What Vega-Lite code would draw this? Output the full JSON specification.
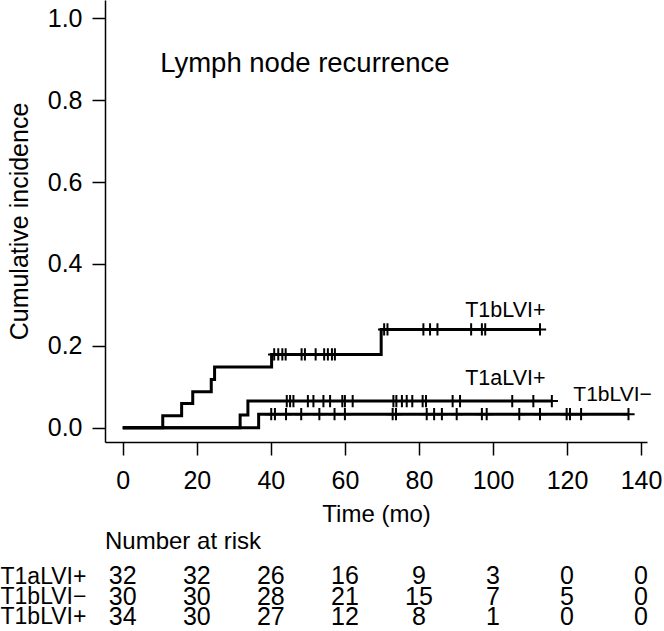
{
  "$schema": "https://vega.github.io/schema/vega-lite/v6.json",
  "padding": 0,
  "background": "white",
  "config": {"font": "Liberation Sans", "view": {"stroke": null}, "concat": {"spacing": 4}},
  "datasets": {
    "steps": [
      {"group": "T1bLVI+", "time": 0, "cif": 0},
      {"group": "T1bLVI+", "time": 10.8, "cif": 0.029},
      {"group": "T1bLVI+", "time": 15.9, "cif": 0.059},
      {"group": "T1bLVI+", "time": 18.9, "cif": 0.088},
      {"group": "T1bLVI+", "time": 23.9, "cif": 0.118},
      {"group": "T1bLVI+", "time": 24.8, "cif": 0.148},
      {"group": "T1bLVI+", "time": 40.2, "cif": 0.179},
      {"group": "T1bLVI+", "time": 69.8, "cif": 0.240},
      {"group": "T1bLVI+", "time": 112.7, "cif": 0.240},
      {"group": "T1aLVI+", "time": 0, "cif": 0},
      {"group": "T1aLVI+", "time": 31.7, "cif": 0.031},
      {"group": "T1aLVI+", "time": 33.8, "cif": 0.065},
      {"group": "T1aLVI+", "time": 115.9, "cif": 0.065},
      {"group": "T1bLVI−", "time": 0, "cif": 0},
      {"group": "T1bLVI−", "time": 36.7, "cif": 0.033},
      {"group": "T1bLVI−", "time": 136.6, "cif": 0.033}
    ],
    "censor": [
      {"group": "T1bLVI+", "time": 40.9, "cif": 0.179},
      {"group": "T1bLVI+", "time": 42.0, "cif": 0.179},
      {"group": "T1bLVI+", "time": 43.1, "cif": 0.179},
      {"group": "T1bLVI+", "time": 44.0, "cif": 0.179},
      {"group": "T1bLVI+", "time": 48.3, "cif": 0.179},
      {"group": "T1bLVI+", "time": 49.2, "cif": 0.179},
      {"group": "T1bLVI+", "time": 52.1, "cif": 0.179},
      {"group": "T1bLVI+", "time": 54.4, "cif": 0.179},
      {"group": "T1bLVI+", "time": 55.4, "cif": 0.179},
      {"group": "T1bLVI+", "time": 56.5, "cif": 0.179},
      {"group": "T1bLVI+", "time": 57.3, "cif": 0.179},
      {"group": "T1bLVI+", "time": 70.6, "cif": 0.240},
      {"group": "T1bLVI+", "time": 71.5, "cif": 0.240},
      {"group": "T1bLVI+", "time": 81.2, "cif": 0.240},
      {"group": "T1bLVI+", "time": 83.0, "cif": 0.240},
      {"group": "T1bLVI+", "time": 85.0, "cif": 0.240},
      {"group": "T1bLVI+", "time": 94.1, "cif": 0.240},
      {"group": "T1bLVI+", "time": 97.0, "cif": 0.240},
      {"group": "T1bLVI+", "time": 97.9, "cif": 0.240},
      {"group": "T1bLVI+", "time": 112.7, "cif": 0.240},
      {"group": "T1aLVI+", "time": 44.3, "cif": 0.065},
      {"group": "T1aLVI+", "time": 45.2, "cif": 0.065},
      {"group": "T1aLVI+", "time": 46.1, "cif": 0.065},
      {"group": "T1aLVI+", "time": 50.0, "cif": 0.065},
      {"group": "T1aLVI+", "time": 51.5, "cif": 0.065},
      {"group": "T1aLVI+", "time": 54.2, "cif": 0.065},
      {"group": "T1aLVI+", "time": 56.0, "cif": 0.065},
      {"group": "T1aLVI+", "time": 59.3, "cif": 0.065},
      {"group": "T1aLVI+", "time": 60.0, "cif": 0.065},
      {"group": "T1aLVI+", "time": 62.1, "cif": 0.065},
      {"group": "T1aLVI+", "time": 73.1, "cif": 0.065},
      {"group": "T1aLVI+", "time": 73.9, "cif": 0.065},
      {"group": "T1aLVI+", "time": 75.4, "cif": 0.065},
      {"group": "T1aLVI+", "time": 76.7, "cif": 0.065},
      {"group": "T1aLVI+", "time": 78.2, "cif": 0.065},
      {"group": "T1aLVI+", "time": 81.0, "cif": 0.065},
      {"group": "T1aLVI+", "time": 81.9, "cif": 0.065},
      {"group": "T1aLVI+", "time": 89.1, "cif": 0.065},
      {"group": "T1aLVI+", "time": 91.1, "cif": 0.065},
      {"group": "T1aLVI+", "time": 105.2, "cif": 0.065},
      {"group": "T1aLVI+", "time": 110.9, "cif": 0.065},
      {"group": "T1aLVI+", "time": 115.9, "cif": 0.065},
      {"group": "T1bLVI−", "time": 40.1, "cif": 0.033},
      {"group": "T1bLVI−", "time": 41.1, "cif": 0.033},
      {"group": "T1bLVI−", "time": 44.1, "cif": 0.033},
      {"group": "T1bLVI−", "time": 48.2, "cif": 0.033},
      {"group": "T1bLVI−", "time": 53.1, "cif": 0.033},
      {"group": "T1bLVI−", "time": 57.2, "cif": 0.033},
      {"group": "T1bLVI−", "time": 60.0, "cif": 0.033},
      {"group": "T1bLVI−", "time": 72.9, "cif": 0.033},
      {"group": "T1bLVI−", "time": 73.8, "cif": 0.033},
      {"group": "T1bLVI−", "time": 82.1, "cif": 0.033},
      {"group": "T1bLVI−", "time": 84.1, "cif": 0.033},
      {"group": "T1bLVI−", "time": 86.2, "cif": 0.033},
      {"group": "T1bLVI−", "time": 90.2, "cif": 0.033},
      {"group": "T1bLVI−", "time": 97.0, "cif": 0.033},
      {"group": "T1bLVI−", "time": 98.3, "cif": 0.033},
      {"group": "T1bLVI−", "time": 107.1, "cif": 0.033},
      {"group": "T1bLVI−", "time": 112.7, "cif": 0.033},
      {"group": "T1bLVI−", "time": 119.9, "cif": 0.033},
      {"group": "T1bLVI−", "time": 120.8, "cif": 0.033},
      {"group": "T1bLVI−", "time": 123.8, "cif": 0.033},
      {"group": "T1bLVI−", "time": 136.6, "cif": 0.033}
    ],
    "risk": [
      {"group": "T1aLVI+", "time": 0, "n": 32},
      {"group": "T1aLVI+", "time": 20, "n": 32},
      {"group": "T1aLVI+", "time": 40, "n": 26},
      {"group": "T1aLVI+", "time": 60, "n": 16},
      {"group": "T1aLVI+", "time": 80, "n": 9},
      {"group": "T1aLVI+", "time": 100, "n": 3},
      {"group": "T1aLVI+", "time": 120, "n": 0},
      {"group": "T1aLVI+", "time": 140, "n": 0},
      {"group": "T1bLVI−", "time": 0, "n": 30},
      {"group": "T1bLVI−", "time": 20, "n": 30},
      {"group": "T1bLVI−", "time": 40, "n": 28},
      {"group": "T1bLVI−", "time": 60, "n": 21},
      {"group": "T1bLVI−", "time": 80, "n": 15},
      {"group": "T1bLVI−", "time": 100, "n": 7},
      {"group": "T1bLVI−", "time": 120, "n": 5},
      {"group": "T1bLVI−", "time": 140, "n": 0},
      {"group": "T1bLVI+", "time": 0, "n": 34},
      {"group": "T1bLVI+", "time": 20, "n": 30},
      {"group": "T1bLVI+", "time": 40, "n": 27},
      {"group": "T1bLVI+", "time": 60, "n": 12},
      {"group": "T1bLVI+", "time": 80, "n": 8},
      {"group": "T1bLVI+", "time": 100, "n": 1},
      {"group": "T1bLVI+", "time": 120, "n": 0},
      {"group": "T1bLVI+", "time": 140, "n": 0}
    ]
  },
  "resolve": {"scale": {"x": "independent", "y": "independent"}},
  "vconcat": [
    {
      "width": 542,
      "height": 442,
      "layer": [
        {
          "data": {"name": "steps"},
          "mark": {"type": "line", "interpolate": "step-after", "strokeWidth": 3, "color": "black"},
          "encoding": {
            "x": {
              "field": "time", "type": "quantitative",
              "scale": {"domain": [-4.8, 141.6], "nice": false, "zero": false},
              "axis": {
                "values": [0, 20, 40, 60, 80, 100, 120, 140],
                "title": "Time (mo)", "grid": false,
                "tickSize": 13, "tickWidth": 1.5, "tickColor": "black",
                "domainColor": "black", "domainWidth": 1.5,
                "labelFontSize": 25, "labelColor": "black", "labelPadding": 13,
                "labelFlush": false, "labelOverlap": false,
                "titleFontSize": 24, "titleFontWeight": "normal", "titleColor": "black", "titlePadding": 9
              }
            },
            "y": {
              "field": "cif", "type": "quantitative",
              "scale": {"domain": [-0.035, 1.045], "nice": false, "zero": false},
              "axis": {
                "values": [0, 0.2, 0.4, 0.6, 0.8, 1.0], "format": ".1f",
                "title": "Cumulative incidence", "grid": false,
                "tickSize": 13, "tickWidth": 1.5, "tickColor": "black",
                "domainColor": "black", "domainWidth": 1.5,
                "labelFontSize": 25, "labelColor": "black", "labelPadding": 10,
                "labelOverlap": false,
                "titleFontSize": 25, "titleFontWeight": "normal", "titleColor": "black", "titlePadding": 15
              }
            },
            "detail": {"field": "group"}
          }
        },
        {
          "data": {"name": "censor"},
          "mark": {"type": "point", "shape": "M-1,0H1M0,-1V1", "size": 150, "filled": false, "stroke": "black", "strokeWidth": 2, "opacity": 1},
          "encoding": {
            "x": {"field": "time", "type": "quantitative"},
            "y": {"field": "cif", "type": "quantitative"}
          }
        },
        {
          "data": {"values": [{"label": "Lymph node recurrence"}]},
          "mark": {"type": "text", "align": "left", "baseline": "middle", "fontSize": 27.5, "color": "black"},
          "encoding": {
            "x": {"datum": 10.1, "type": "quantitative"},
            "y": {"datum": 0.888, "type": "quantitative"},
            "text": {"field": "label"}
          }
        },
        {
          "data": {"values": [{"label": "T1bLVI+"}]},
          "mark": {"type": "text", "align": "left", "baseline": "middle", "fontSize": 21.5, "color": "black"},
          "encoding": {
            "x": {"datum": 92.5, "type": "quantitative"},
            "y": {"datum": 0.285, "type": "quantitative"},
            "text": {"field": "label"}
          }
        },
        {
          "data": {"values": [{"label": "T1aLVI+"}]},
          "mark": {"type": "text", "align": "left", "baseline": "middle", "fontSize": 21.5, "color": "black"},
          "encoding": {
            "x": {"datum": 92.5, "type": "quantitative"},
            "y": {"datum": 0.12, "type": "quantitative"},
            "text": {"field": "label"}
          }
        },
        {
          "data": {"values": [{"label": "T1bLVI−"}]},
          "mark": {"type": "text", "align": "left", "baseline": "middle", "fontSize": 21, "color": "black"},
          "encoding": {
            "x": {"datum": 121.7, "type": "quantitative"},
            "y": {"datum": 0.079, "type": "quantitative"},
            "text": {"field": "label"}
          }
        }
      ]
    },
    {
      "width": 542,
      "height": 61,
      "data": {"name": "risk"},
      "title": {"text": "Number at risk", "anchor": "start", "frame": "group", "fontSize": 24, "fontWeight": "normal", "color": "black", "offset": 10},
      "mark": {"type": "text", "fontSize": 25, "color": "black"},
      "encoding": {
        "x": {"field": "time", "type": "quantitative", "scale": {"domain": [-4.8, 141.6], "nice": false, "zero": false}, "axis": null},
        "y": {
          "field": "group", "type": "nominal",
          "sort": ["T1aLVI+", "T1bLVI−", "T1bLVI+"],
          "scale": {"paddingInner": 0, "paddingOuter": 0},
          "axis": {"title": null, "domain": false, "ticks": false, "tickSize": 0, "labelAlign": "left", "labelPadding": 105, "labelFontSize": 23, "labelColor": "black", "labelLimit": 300}
        },
        "text": {"field": "n", "type": "quantitative"}
      }
    }
  ]
}
